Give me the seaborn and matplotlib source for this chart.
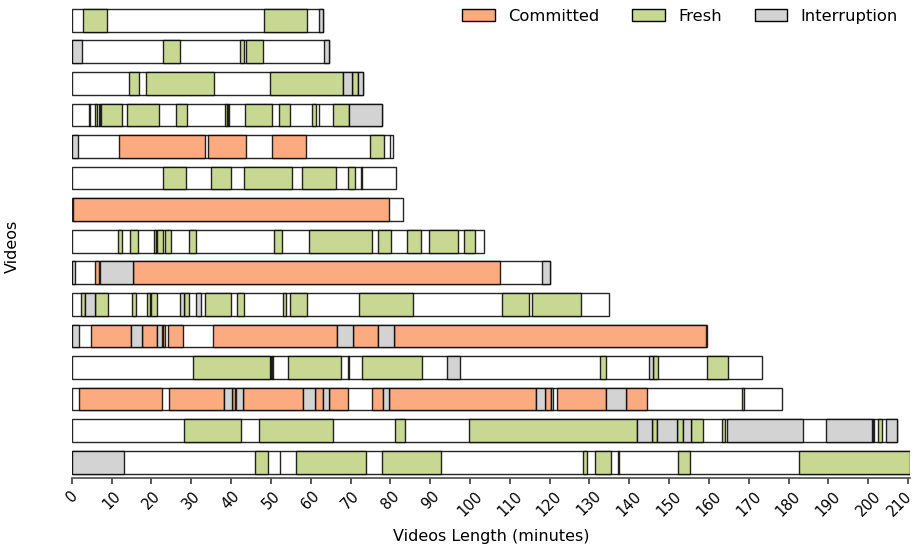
import matplotlib
matplotlib.use("Agg")
import matplotlib.pyplot as plt
import matplotlib.transforms as mtransforms
import seaborn as sns
from matplotlib.patches import Patch

# Total length of each video (minutes), top to bottom
videos = [f"Video {i + 1}" for i in range(15)]
lengths = [63.1, 64.6, 73.1, 78.0, 80.6, 81.5, 83.2, 103.5, 120.1,
           134.9, 159.6, 173.4, 178.4, 207.3, 210.5]

# Segments as (video index, start, end) in minutes
committed = [
    (4, 11.9, 33.5), (4, 34.1, 43.7), (4, 50.3, 58.9),
    (6, 0.4, 79.7),
    (8, 5.9, 6.8), (8, 15.4, 107.6),
    (10, 4.7, 14.8), (10, 17.6, 21.5), (10, 23.0, 23.3), (10, 24.2, 27.9),
    (10, 35.5, 66.5), (10, 70.5, 77.0), (10, 80.9, 159.3),
    (12, 1.8, 22.7), (12, 24.4, 38.1), (12, 40.3, 41.0), (12, 43.1, 58.1),
    (12, 61.1, 63.1), (12, 64.6, 69.4), (12, 75.3, 78.2), (12, 79.6, 116.7),
    (12, 118.9, 120.3), (12, 121.8, 134.2), (12, 139.3, 144.4),
]

fresh = [
    (0, 2.8, 8.9), (0, 48.3, 59.0),
    (1, 22.9, 27.2), (1, 42.3, 43.3), (1, 43.7, 48.0),
    (2, 14.4, 16.8), (2, 18.6, 35.7), (2, 49.8, 68.1), (2, 70.4, 71.8),
    (3, 4.2, 4.5), (3, 5.9, 6.4), (3, 6.9, 7.1), (3, 7.2, 12.6),
    (3, 13.9, 21.9), (3, 26.2, 28.9), (3, 38.5, 39.0), (3, 39.2, 39.4),
    (3, 43.4, 50.3), (3, 52.1, 54.9), (3, 60.4, 61.4), (3, 62.0, 62.2),
    (3, 65.7, 69.5),
    (4, 74.9, 78.4), (4, 79.8, 80.0),
    (5, 22.9, 28.7), (5, 35.0, 40.1), (5, 43.2, 55.3), (5, 57.9, 66.4),
    (5, 69.4, 71.1), (5, 72.7, 72.9),
    (7, 11.5, 12.6), (7, 14.7, 16.7), (7, 20.6, 21.1), (7, 21.5, 22.9),
    (7, 23.4, 24.8), (7, 29.5, 31.3), (7, 50.9, 52.7), (7, 59.6, 75.5),
    (7, 76.9, 80.2), (7, 84.1, 87.7), (7, 89.7, 96.9), (7, 98.4, 101.3),
    (9, 2.4, 3.4), (9, 5.9, 9.1), (9, 15.2, 16.0), (9, 18.9, 19.6),
    (9, 20.0, 21.4), (9, 28.1, 29.5), (9, 33.5, 40.1), (9, 41.4, 43.3),
    (9, 53.1, 53.9), (9, 54.8, 59.0), (9, 72.1, 85.8), (9, 108.0, 114.7),
    (9, 115.6, 127.8),
    (11, 30.5, 49.7), (11, 49.9, 50.1), (11, 50.3, 50.5), (11, 54.4, 67.7),
    (11, 69.4, 69.7), (11, 72.9, 87.9), (11, 132.7, 134.1),
    (11, 146.0, 147.1), (11, 159.6, 164.7),
    (12, 168.3, 168.7),
    (13, 28.2, 42.4), (13, 47.0, 65.5), (13, 81.1, 83.7), (13, 99.8, 141.9),
    (13, 145.6, 147.0), (13, 152.1, 153.4), (13, 155.4, 158.4),
    (13, 163.2, 164.1), (13, 202.6, 203.4),
    (14, 46.1, 49.3), (14, 52.2, 52.4), (14, 56.2, 74.0), (14, 78.0, 92.7),
    (14, 128.4, 129.5), (14, 131.5, 135.4), (14, 137.2, 137.4),
    (14, 152.3, 155.3), (14, 182.7, 210.5),
]

interruption = [
    (0, 62.1, 63.1),
    (1, 0.0, 2.6), (1, 63.3, 64.6),
    (2, 68.1, 70.4), (2, 71.8, 73.1),
    (3, 69.5, 78.0),
    (4, 0.0, 1.6),
    (8, 0.0, 0.9), (8, 7.1, 15.4), (8, 118.2, 120.1),
    (9, 3.4, 5.9), (9, 27.1, 28.1), (9, 31.3, 32.5),
    (10, 0.0, 1.8), (10, 14.8, 17.6), (10, 21.5, 22.7), (10, 66.5, 70.5),
    (10, 77.0, 80.9),
    (11, 94.2, 97.5), (11, 145.0, 146.0),
    (12, 38.1, 40.3), (12, 41.3, 43.1), (12, 58.1, 61.1), (12, 63.1, 64.6),
    (12, 78.2, 79.6), (12, 116.7, 118.9), (12, 120.3, 120.8),
    (12, 134.2, 139.3),
    (13, 141.9, 145.6), (13, 147.0, 152.1), (13, 153.4, 155.4),
    (13, 164.5, 183.7), (13, 189.4, 200.9), (13, 201.2, 201.5),
    (13, 204.5, 207.3),
    (14, 0.0, 13.1),
]

categories = ["Committed", "Fresh", "Interruption"]
colors = {"Committed": "#FCAA80", "Fresh": "#C8D791", "Interruption": "#D3D3D3"}
segments = {"Committed": committed, "Fresh": fresh, "Interruption": interruption}

sns.set_theme(style="ticks")
plt.rcParams["font.family"] = ["DejaVu Sans"]
plt.rcParams["text.color"] = "black"
plt.rcParams["axes.labelcolor"] = "black"

fig = plt.figure(figsize=(9.21, 5.5), dpi=100)
ax = fig.add_axes([0.078, 0.131, 0.910, 0.861])

bar_h = 0.72
edge = (0, 0, 0, 0.85)

# White background bar for the full length of each video
sns.barplot(x=lengths, y=videos, orient="h", color="white", saturation=1,
            edgecolor=edge, linewidth=1.0, width=bar_h, ax=ax)

# Coloured segments on top
for cat in categories:
    segs = segments[cat]
    ax.barh([s[0] for s in segs], [s[2] - s[1] for s in segs],
            left=[s[1] for s in segs], height=bar_h, color=colors[cat],
            edgecolor=edge, linewidth=1.0)

ax.set_ylim(len(videos) - 0.5, -0.5)
ax.set_xlim(0, 210.5)
ax.set_xticks(range(0, 211, 10))
ax.tick_params(axis="x", labelsize=10.5, labelrotation=45, length=4,
               color="#444444", labelcolor="black")
xlabels = ax.get_xticklabels()
# keep the last tick label inside the canvas
xlabels[-1].set_transform(xlabels[-1].get_transform()
                          + mtransforms.ScaledTranslation(-6 / 72, 0, fig.dpi_scale_trans))
ax.set_yticks([])
ax.set_xlabel("Videos Length (minutes)", fontsize=11.5, labelpad=7)
ax.set_ylabel("Videos", fontsize=11.5)
ax.yaxis.set_label_coords(-0.062, 0.49)
sns.despine(ax=ax, left=True)
ax.spines["bottom"].set_color("#555555")

handles = [Patch(facecolor=colors[c], edgecolor="black", linewidth=1.0, label=c)
           for c in categories]
ax.legend(handles=handles, loc="upper right", ncol=3, frameon=False,
          fontsize=11.8, bbox_to_anchor=(1.003, 1.022))

fig.savefig("out.png", dpi=100)
